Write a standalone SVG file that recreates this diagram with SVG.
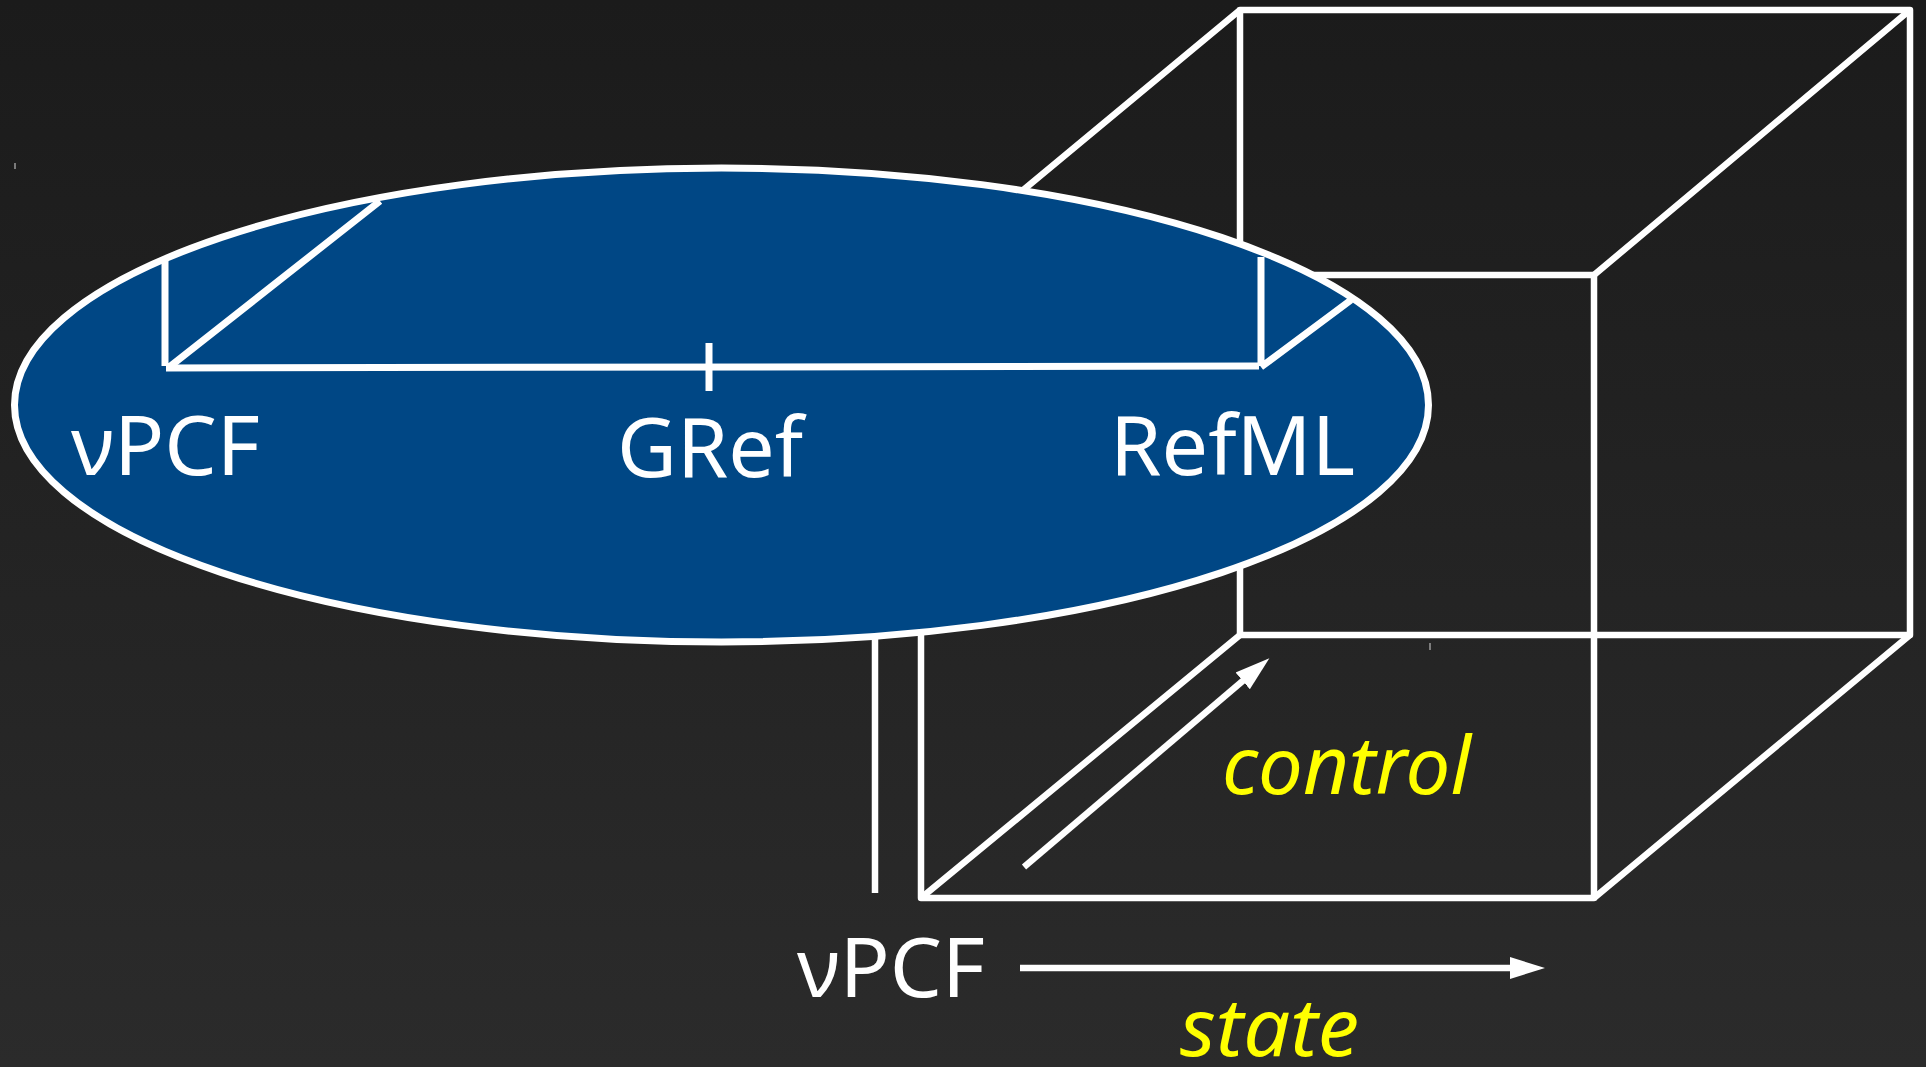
<svg xmlns="http://www.w3.org/2000/svg" width="1926" height="1067" viewBox="0 0 1926 1067">
  <defs>
    <linearGradient id="bg" x1="0" y1="0" x2="0" y2="1">
      <stop offset="0" stop-color="#1b1b1b"/>
      <stop offset="1" stop-color="#2b2b2b"/>
    </linearGradient>
    <marker id="arr" markerUnits="userSpaceOnUse" markerWidth="36" markerHeight="24" viewBox="0 0 36 24" refX="3" refY="12" orient="auto">
      <path d="M0,1 L35,12 L0,23 Z" fill="#ffffff"/>
    </marker>
    <style>
      .ln { fill: none; stroke: #ffffff; stroke-width: 6.5; stroke-linejoin: round; }
      .inner { fill: none; stroke: #ffffff; stroke-width: 7; }
      .lbl { font-family: "Noto Sans", "Open Sans", sans-serif; font-size: 82px; fill: #ffffff; }
      .ital { font-family: "Noto Sans", "Open Sans", sans-serif; font-size: 80px; font-style: italic; fill: #ffff00; }
      .tick { stroke: #9a9a9a; stroke-width: 1.5; }
    </style>
  </defs>
  <rect x="0" y="0" width="1926" height="1067" fill="url(#bg)"/>
  <line class="tick" x1="15" y1="163" x2="15" y2="169"/>

  <g id="cube">
    <path class="ln" d="M1240,10 H1910 V635 H1240 Z"/>
    <path class="ln" d="M921,275 H1594 V898 H921 Z"/>
    <path class="ln" d="M921,275 L1240,10 M1594,275 L1910,10 M1594,898 L1910,635 M921,898 L1240,635"/>
    <line class="ln" x1="875" y1="600" x2="875" y2="893"/>
  </g>

  <g id="ellipse">
    <ellipse cx="721.5" cy="405" rx="707" ry="237" fill="#004785" stroke="#ffffff" stroke-width="7"/>
    <path class="inner" d="M165,257 V366 M168,368 L380,201 M1261,257 V366 M1261,367 L1351,300"/>
    <line class="inner" x1="166" y1="368" x2="1259" y2="366" stroke-width="8"/>
    <line class="inner" x1="709" y1="343" x2="709" y2="391"/>
  </g>
  <line class="tick" x1="1430" y1="643" x2="1430" y2="650"/>

  <g id="node-vpcf-top">
    <text class="lbl" x="71" y="475" textLength="189" lengthAdjust="spacingAndGlyphs">νPCF</text>
  </g>
  <g id="node-gref">
    <text class="lbl" x="617" y="477" textLength="186" lengthAdjust="spacingAndGlyphs">GRef</text>
  </g>
  <g id="node-refml">
    <text class="lbl" x="1110" y="475" textLength="245" lengthAdjust="spacingAndGlyphs">RefML</text>
  </g>
  <g id="node-vpcf-bottom">
    <text class="lbl" x="797" y="997" textLength="188" lengthAdjust="spacingAndGlyphs">νPCF</text>
  </g>
  <g id="label-control">
    <text class="ital" x="1222" y="794" textLength="249" lengthAdjust="spacingAndGlyphs">control</text>
  </g>
  <g id="label-state">
    <text class="ital" x="1180" y="1056" textLength="179" lengthAdjust="spacingAndGlyphs">state</text>
  </g>

  <g id="connectors">
    <line class="ln" x1="1024" y1="867" x2="1245" y2="679" marker-end="url(#arr)"/>
    <line class="ln" x1="1020" y1="968" x2="1513" y2="968" marker-end="url(#arr)"/>
  </g>
</svg>
